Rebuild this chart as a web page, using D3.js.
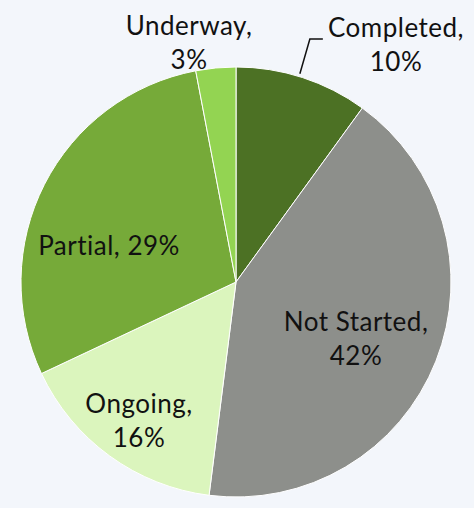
<!DOCTYPE html>
<html lang="en">
<head>
<meta charset="utf-8">
<script src="https://d3js.org/d3.v7.min.js"></script>
<style>
  html, body { margin: 0; padding: 0; background: #f3f6fb; }
  svg text { font-family: Lato, "Open Sans", sans-serif; font-size: 26px; letter-spacing: 0.5px; fill: #111; text-anchor: middle; }
</style>
</head>
<body>
<svg class="pie-chart"></svg>
<script>
var width = 474,
    height = 508;

var categories = ["Completed", "Not Started", "Ongoing", "Partial", "Underway"];
var shares = [10, 42, 16, 29, 3];
var colours = ["#4c7124", "#8d8f8b", "#dbf5bd", "#76aa39", "#93d452"];

// label spots, relative to the pie centre (two lines each unless second is empty)
var labelSpots = [[160, -245], [120, 49], [-97, 131], [-127, -27], [-47, -247]];
var labelLines = [["Completed,", "10%"], ["Not Started,", "42%"], ["Ongoing,", "16%"], ["Partial, 29%"], ["Underway,", "3%"]];

var cx = 236, cy = 282, radius = 215;

var svg = d3.select(".pie-chart")
    .attr("width", width)
    .attr("height", height);

var g = svg.append("g")
    .attr("transform", "translate(" + cx + "," + cy + ")");

var pie = d3.pie().sort(null).value(function(d) { return d; });
var arc = d3.arc().innerRadius(0).outerRadius(radius);

var slices = pie(shares);

g.selectAll("path")
  .data(slices)
  .enter()
  .append("path")
    .attr("d", arc)
    .attr("fill", function(d, i) { return colours[i]; })
    .attr("stroke", "#ffffff")
    .attr("stroke-width", 1);

// leader line for Completed
var edge = d3.pointRadial(slices[0].startAngle + (slices[0].endAngle - slices[0].startAngle) * 0.48, radius);
g.append("polyline")
  .attr("points", [[edge[0], edge[1] - 3], [edge[0] + 10, -243], [edge[0] + 23, -243]].join(" "))
  .attr("fill", "none")
  .attr("stroke", "#111")
  .attr("stroke-width", 1.5);

var labels = g.selectAll("text.lbl")
  .data(categories)
  .enter()
  .append("text")
    .attr("class", "lbl")
    .attr("transform", function(d, i) { return "translate(" + labelSpots[i][0] + "," + labelSpots[i][1] + ")"; });

labels.selectAll("tspan")
  .data(function(d, i) { return labelLines[i]; })
  .enter()
  .append("tspan")
    .attr("x", 0)
    .attr("y", function(d, j) { return j * 34; })
    .text(function(d) { return d; });
</script>
</body>
</html>
